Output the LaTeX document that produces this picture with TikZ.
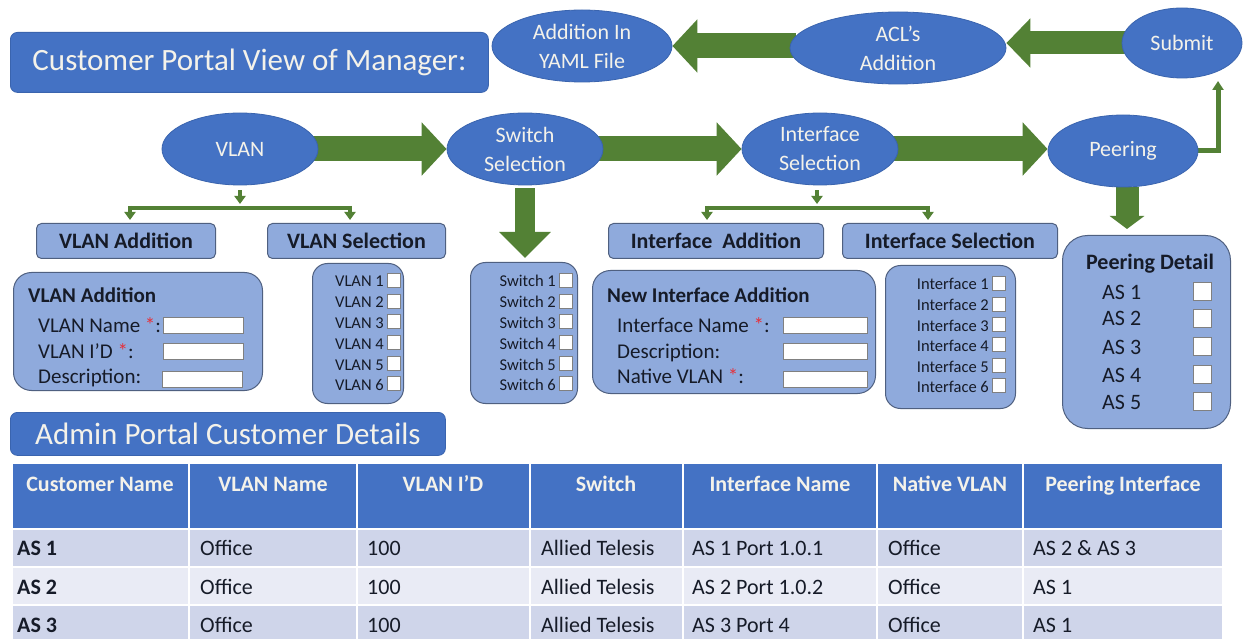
\documentclass[tikz,border=0pt]{standalone}
\usepackage{fontspec}
\setmainfont{Carlito}
\usetikzlibrary{shapes.geometric,arrows.meta,backgrounds}
\definecolor{eblue}{HTML}{4472C4}
\definecolor{eborder}{HTML}{3A64AE}
\definecolor{etext}{HTML}{F4F2EA}
\definecolor{garrow}{HTML}{538135}
\definecolor{lbox}{HTML}{8FAADC}
\definecolor{lbord}{HTML}{4F6080}
\definecolor{dtext}{HTML}{161B28}
\definecolor{rowa}{HTML}{CFD5EA}
\definecolor{rowb}{HTML}{E9EBF5}
\definecolor{star}{HTML}{E5303A}
\definecolor{cbord}{HTML}{808080}
\tikzset{
 ell/.style={ellipse, fill=eblue, draw=eborder, line width=0.8pt, inner sep=0pt, text=etext, align=center, font=\fontsize{22}{29}\selectfont},
 titlebox/.style={rectangle, rounded corners=7pt, fill=eblue, draw=eborder, line width=0.8pt, inner sep=0pt, text=etext, font=\fontsize{31}{36}\selectfont, anchor=north west},
 hbox/.style={rectangle, rounded corners=5pt, fill=lbox, draw=lbord, line width=1pt, inner sep=0pt, minimum height=35pt, text=dtext, font=\bfseries\fontsize{22}{26}\selectfont, anchor=north west},
 panel/.style={rectangle, rounded corners=18pt, fill=lbox, draw=lbord, line width=1pt, inner sep=0pt, anchor=north west},
 lbl/.style={inner sep=0pt, text=dtext, anchor=base west, font=\fontsize{21}{25}\selectfont},
 blbl/.style={inner sep=0pt, text=dtext, anchor=base west, font=\bfseries\fontsize{21}{25}\selectfont},
 item/.style={inner sep=0pt, text=dtext, anchor=base east, font=\fontsize{16.5}{20}\selectfont},
 aslbl/.style={inner sep=0pt, text=dtext, anchor=base west, font=\fontsize{22}{26}\selectfont},
 cbox/.style={rectangle, fill=white, draw=cbord, line width=0.8pt, inner sep=0pt, minimum width=13pt, minimum height=14pt, anchor=south west},
 pbox/.style={rectangle, fill=white, draw=cbord, line width=0.8pt, inner sep=0pt, minimum width=18pt, minimum height=18pt, anchor=west},
 field/.style={rectangle, fill=white, draw=cbord, line width=0.8pt, inner sep=0pt, minimum width=80pt, minimum height=16pt, anchor=north west},
 bigarrow/.style={draw=garrow, line width=25pt, -{Triangle[width=52pt,length=25pt]}},
 midarrow/.style={draw=garrow, line width=23pt, -{Triangle[width=48pt,length=24pt]}},
 downarrow/.style={draw=garrow, line width=20pt, -{Triangle[width=50pt,length=26pt]}},
 pdownarrow/.style={draw=garrow, line width=23pt, -{Triangle[width=34pt,length=13pt]}},
 gbar/.style={draw=garrow, line width=4pt},
 gsmall/.style={draw=garrow, line width=4pt, -{Triangle[width=11pt,length=8pt]}},
 gline/.style={draw=garrow, line width=5pt, -{Triangle[width=11pt,length=9pt]}},
 hdr/.style={inner sep=0pt, text=etext, anchor=base, font=\bfseries\fontsize{22}{26}\selectfont},
 cell/.style={inner sep=0pt, text=dtext, anchor=base west, font=\fontsize{22}{26}\selectfont},
 bcell/.style={inner sep=0pt, text=dtext, anchor=base west, font=\bfseries\fontsize{22}{26}\selectfont}
}
\newcommand{\rstar}{\textcolor{star}{*}}
\begin{document}
\begin{tikzpicture}[x=1pt,y=-1pt]
\useasboundingbox (0,0) rectangle (1243,639);

% ---- title boxes
\node[titlebox, minimum width=478pt, minimum height=60pt] (t1) at (10,32) {Customer Portal View of Manager:};
\node[titlebox, minimum width=435pt, minimum height=43pt] (t2) at (10,412) {Admin Portal Customer Details};

% ---- ellipses
\node[ell, minimum width=180pt, minimum height=72pt] (yaml) at (582,46) {Addition In\\YAML File};
\node[ell, minimum width=216pt, minimum height=72pt] (acl) at (898,48) {ACL’s\\Addition};
\node[ell, minimum width=120pt, minimum height=70pt] (submit) at (1182,43) {Submit};
\node[ell, minimum width=156pt, minimum height=72pt] (vlan) at (240,149) {VLAN};
\node[ell, minimum width=156pt, minimum height=72pt] (switch) at (525,149) {Switch\\Selection};
\node[ell, minimum width=156pt, minimum height=72pt] (iface) at (820,149) {Interface\\Selection};
\node[ell, minimum width=150pt, minimum height=72pt] (peer) at (1123,151) {Peering};

% ---- header boxes
\node[hbox, minimum width=179pt] (vadd) at (36,223) {VLAN Addition};
\node[hbox, minimum width=178pt] (vsel) at (267,223) {VLAN Selection};
\node[hbox, minimum width=215pt] (iadd) at (608,223) {Interface\ \ Addition};
\node[hbox, minimum width=215pt] (isel) at (842,223) {Interface Selection};

% ---- VLAN addition panel
\node[panel, minimum width=249pt, minimum height=118pt] (vpanel) at (13,272) {};
\node[blbl] (vptitle) at (28,302) {VLAN Addition};
\node[lbl] (vname) at (38,332) {VLAN Name \rstar:};
\node[lbl] (vid) at (38,358) {VLAN I’D \rstar:};
\node[lbl] (vdesc) at (38,383) {Description:};
\node[field] (vf1) at (163,317) {};
\node[field] (vf2) at (163,343) {};
\node[field] (vf3) at (162,371) {};

% ---- VLAN list
\node[panel, rounded corners=15pt, minimum width=91pt, minimum height=140pt] (vlist) at (312,263) {};
\foreach \i/\y in {1/287,2/308,3/328,4/349,5/370,6/390} {
  \node[item] (vl\i) at (384,\y) {VLAN \i};
  \node[cbox] (vc\i) at (387,\y+1) {};
}

% ---- Switch list
\node[panel, rounded corners=15pt, minimum width=107pt, minimum height=141pt] (swlist) at (470,262) {};
\foreach \i/\y in {1/287,2/308,3/328,4/349,5/370,6/390} {
  \node[item] (sl\i) at (556,\y) {Switch \i};
  \node[cbox] (sc\i) at (559,\y+1) {};
}

% ---- New interface panel
\node[panel, minimum width=283pt, minimum height=123pt] (ipanel) at (592,270) {};
\node[blbl] (iptitle) at (607,302) {New Interface Addition};
\node[lbl] (iname) at (617,332) {Interface Name \rstar:};
\node[lbl] (idesc) at (617,358) {Description:};
\node[lbl] (inat) at (617,383) {Native VLAN \rstar:};
\node[field, minimum width=84pt] (if1) at (783,317) {};
\node[field, minimum width=84pt] (if2) at (783,343) {};
\node[field, minimum width=84pt] (if3) at (783,371) {};

% ---- Interface list
\node[panel, rounded corners=15pt, minimum width=130pt, minimum height=143pt] (ilist) at (885,265) {};
\foreach \i/\y in {1/290,2/311,3/331,4/351,5/372,6/392} {
  \node[item] (il\i) at (989,\y) {Interface \i};
  \node[cbox] (ic\i) at (992,\y+1) {};
}

% ---- Peering detail
\node[panel, rounded corners=25pt, minimum width=168pt, minimum height=193pt] (pdetail) at (1062,235) {};
\node[inner sep=0pt, text=dtext, anchor=base, font=\bfseries\fontsize{22}{26}\selectfont] (ptitle) at (1150,270) {Peering Detail};
\foreach \i/\y in {1/299,2/326,3/354,4/382,5/409} {
  \node[aslbl] (as\i) at (1102,\y) {AS \i};
  \node[pbox] (pc\i) at (1193,\y-8) {};
}

% ---- connectors (behind)
\begin{scope}[on background layer]
\fill[white] (0,0) rectangle (1243,639);
\draw[bigarrow] ([xshift=-6pt]vlan.east) -- (switch.west);
\draw[bigarrow] ([xshift=-6pt]switch.east) -- (iface.west);
\draw[bigarrow] ([xshift=-6pt]iface.east) -- (iface.east -| peer.west);
\draw[bigarrow] ([xshift=6pt]yaml.east -| acl.west) -- (yaml.east);
\draw[midarrow] ([xshift=6pt]submit.west) -- (submit.west -| acl.east);
\draw[downarrow] ([yshift=-3pt]switch.south) -- ([yshift=4pt]switch.south |- swlist.north);
\coordinate (pdtip) at (1127,229);
\draw[pdownarrow] (peer.south -| pdtip) -- (pdtip);
\coordinate (subin) at (1218,81);
\draw[gline] ([xshift=-4pt]peer.east) -| (subin);
% VLAN split
\coordinate (vb1) at (130,208);
\coordinate (vb2) at (350,208);
\draw[gsmall] ([yshift=-5pt]vlan.south) -- ([yshift=4pt]vlan.south |- vb1);
\draw[gbar] ([xshift=-2pt]vb1) -- ([xshift=2pt]vb2);
\draw[gsmall] ([yshift=2pt]vb1) -- ([yshift=3pt]vb1 |- vadd.north);
\draw[gsmall] ([yshift=2pt]vb2) -- ([yshift=3pt]vb2 |- vsel.north);
% Interface split
\coordinate (ib1) at (707,208);
\coordinate (ib2) at (928,208);
\coordinate (ibm) at (817,208);
\draw[gsmall] ([yshift=-5pt]iface.south -| ibm) -- ([yshift=4pt]ibm);
\draw[gbar] ([xshift=-2pt]ib1) -- ([xshift=2pt]ib2);
\draw[gsmall] ([yshift=2pt]ib1) -- ([yshift=3pt]ib1 |- iadd.north);
\draw[gsmall] ([yshift=2pt]ib2) -- ([yshift=3pt]ib2 |- isel.north);
\end{scope}

% ---- table
\foreach \xa/\xb in {12/189,189/357,357/530,530/683,683/877,877/1023,1023/1223} {
  \filldraw[fill=eblue, draw=white, line width=2pt] (\xa,463) rectangle (\xb,529);
  \filldraw[fill=rowa, draw=white, line width=2pt] (\xa,529) rectangle (\xb,567);
  \filldraw[fill=rowb, draw=white, line width=2pt] (\xa,567) rectangle (\xb,605);
  \filldraw[fill=rowa, draw=white, line width=2pt] (\xa,605) rectangle (\xb,645);
}
\node[hdr] (h1) at (100,491) {Customer Name};
\node[hdr] (h2) at (273,491) {VLAN Name};
\node[hdr] (h3) at (443,491) {VLAN I’D};
\node[hdr] (h4) at (606,491) {Switch};
\node[hdr] (h5) at (780,491) {Interface Name};
\node[hdr] (h6) at (950,491) {Native VLAN};
\node[hdr] (h7) at (1123,491) {Peering Interface};

\foreach \r/\y/\pi/\port in {1/555/{AS 2 \& AS 3}/{AS 1 Port 1.0.1},2/594/{AS 1}/{AS 2 Port 1.0.2},3/632/{AS 1}/{AS 3 Port 4}} {
  \node[bcell] (c\r a) at (17,\y) {AS \r};
  \node[cell] (c\r b) at (200,\y) {Office};
  \node[cell] (c\r c) at (367,\y) {100};
  \node[cell] (c\r d) at (541,\y) {Allied Telesis};
  \node[cell] (c\r e) at (692,\y) {\port};
  \node[cell] (c\r f) at (888,\y) {Office};
  \node[cell] (c\r g) at (1033,\y) {\pi};
}
\end{tikzpicture}
\end{document}
